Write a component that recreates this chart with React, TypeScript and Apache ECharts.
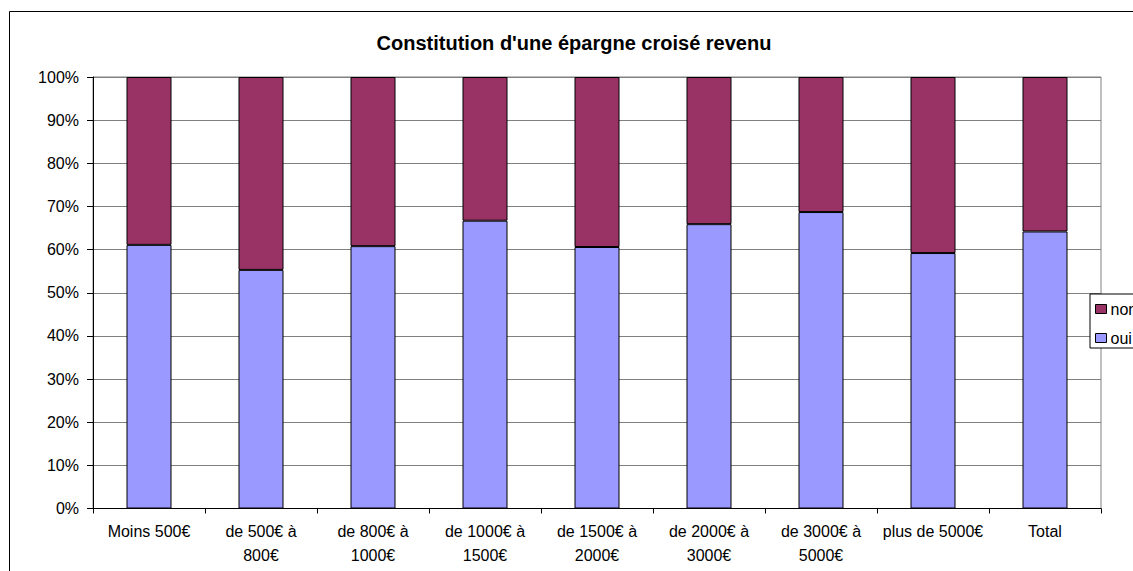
import React, { useEffect, useRef } from "react";
import * as echarts from "echarts";

const titleText = "Constitution d'une épargne croisé revenu";
const categories = [
  "Moins 500€",
  "de 500€ à\n800€",
  "de 800€ à\n1000€",
  "de 1000€ à\n1500€",
  "de 1500€ à\n2000€",
  "de 2000€ à\n3000€",
  "de 3000€ à\n5000€",
  "plus de 5000€",
  "Total",
];
const ouiValues = [61.1, 55.3, 60.8, 66.7, 60.6, 65.9, 68.7, 59.2, 64.2];
const nonValues = [38.9, 44.7, 39.2, 33.3, 39.4, 34.1, 31.3, 40.8, 35.8];
const seriesNames = ["oui", "non"];
const legendOrder = ["non", "oui"];

const FONT = "'Liberation Sans', Arial, Helvetica, sans-serif";

export default function App() {
  const ref = useRef<HTMLDivElement>(null);
  useEffect(() => {
    document.body.style.margin = "0";
    if (!ref.current) return;
    const chart = echarts.init(ref.current, null, { renderer: "svg" });
    chart.setOption({
      animation: false,
      backgroundColor: "#ffffff",
      textStyle: { fontFamily: FONT },
      graphic: [
        {
          type: "rect",
          shape: { x: 9.5, y: 11.5, width: 1300, height: 700 },
          style: { fill: "none", stroke: "#000", lineWidth: 1 },
          z: 0,
        },
        {
          type: "text",
          x: 574,
          y: 42.5,
          style: {
            text: titleText,
            fontFamily: FONT,
            fontSize: 20,
            fontWeight: "bold",
            fill: "#000",
            textAlign: "center",
            textVerticalAlign: "middle",
          },
        },
      ],
      legend: {
        data: legendOrder,
        orient: "vertical",
        left: 1090,
        top: 294,
        padding: [7, 5, 2, 5],
        itemGap: 13,
        itemWidth: 11,
        itemHeight: 9,
        icon: "rect",
        backgroundColor: "#fff",
        borderColor: "#000",
        borderWidth: 1,
        borderRadius: 0,
        itemStyle: { borderColor: "#000", borderWidth: 1 },
        textStyle: { fontSize: 16, lineHeight: 16, color: "#000", fontFamily: FONT, padding: [0, 0, 0, -1] },
        z: 10,
      },
      grid: {
        left: 93,
        top: 77,
        width: 1008,
        height: 431.5,
        show: true,
        borderColor: "#808080",
        borderWidth: 1,
        backgroundColor: "transparent",
      },
      xAxis: {
        type: "category",
        data: categories,
        axisLine: { show: true, lineStyle: { color: "#000", width: 1 } },
        axisTick: { show: true, length: 5, lineStyle: { color: "#000" } },
        axisLabel: {
          interval: 0,
          fontSize: 16,
          lineHeight: 24,
          margin: 11,
          color: "#000",
          fontFamily: FONT,
        },
        splitLine: { show: false },
      },
      yAxis: {
        type: "value",
        min: 0,
        max: 100,
        interval: 10,
        axisLine: { show: true, lineStyle: { color: "#000", width: 1 } },
        axisTick: { show: true, length: 6, lineStyle: { color: "#000" } },
        axisLabel: {
          formatter: "{value}%",
          fontSize: 16,
          margin: 14,
          color: "#000",
          fontFamily: FONT,
        },
        splitLine: { show: true, lineStyle: { color: "#808080", width: 1 } },
      },
      series: [
        {
          name: seriesNames[0],
          type: "bar",
          stack: "total",
          data: ouiValues,
          barWidth: 45,
          itemStyle: { color: "#9999FF", borderColor: "#000", borderWidth: 1 },
        },
        {
          name: seriesNames[1],
          type: "bar",
          stack: "total",
          data: nonValues,
          barWidth: 45,
          itemStyle: { color: "#993366", borderColor: "#000", borderWidth: 1 },
        },
      ],
    });
    return () => chart.dispose();
  }, []);
  return <div ref={ref} style={{ width: 1133, height: 571 }} />;
}
